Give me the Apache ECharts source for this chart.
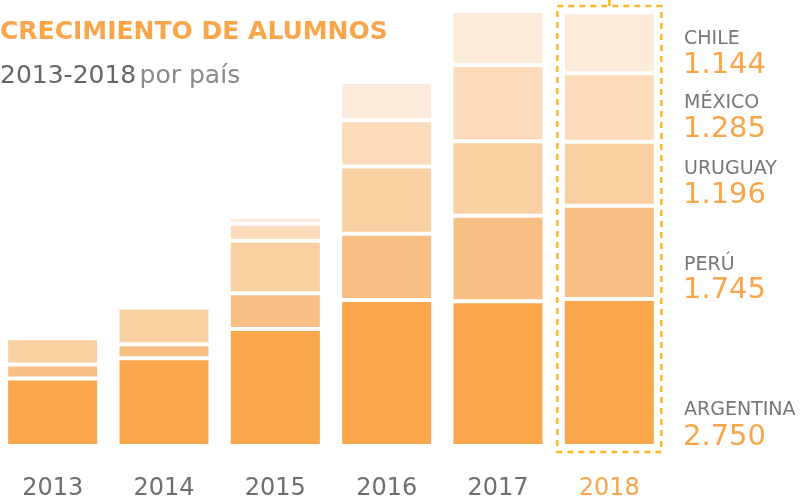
<!DOCTYPE html>
<html>
<head>
<meta charset="utf-8">
<script src="https://cdn.jsdelivr.net/npm/echarts@6/dist/echarts.min.js"></script>
<style>
html, body { margin: 0; padding: 0; background: #fff; }
#main { width: 809px; height: 502px; }
</style>
</head>
<body>
<div id="main"></div>
<script>
// datos (alumnos por pais y año)
var years = ['2013', '2014', '2015', '2016', '2017', '2018'];
var argentina = [1262, 1643, 2190, 2730, 2710, 2750];
var peru = [265, 260, 670, 1240, 1600, 1745];
var uruguay = [490, 690, 980, 1260, 1390, 1196];
var mexico = [null, null, 320, 865, 1430, 1285];
var chile = [null, null, 130, 715, 1015, 1144];
var paises = ['ARGENTINA', 'PERÚ', 'URUGUAY', 'MÉXICO', 'CHILE'];
var colores = ['#F9A64C', '#F8BF84', '#F9D0A1', '#FBDBB9', '#FCEBDA'];

var naranja = '#F9A54A';
var gris = '#6E6E6E';
var fuente = 'DejaVu Sans';

function miles(v) {
    return String(v).replace(/\B(?=(\d{3})+(?!\d))/g, '.');
}

var valores = [argentina, peru, uruguay, mexico, chile];
var total = 0;
valores.forEach(function (s) { total += s[5]; });

var myChart = echarts.init(document.getElementById('main'));

var series = valores.map(function (s, i) {
    return {
        name: paises[i],
        type: 'bar',
        stack: 'total',
        barWidth: 93,
        itemStyle: {
            color: colores[i],
            borderColor: '#fff',
            borderWidth: 2
        },
        data: s
    };
});

option = {
    animation: false,
    grid: {
        left: -3,
        width: 668,
        top: 12,
        bottom: 56,
        outerBoundsMode: 'none',
        containLabel: false
    },
    xAxis: {
        type: 'category',
        data: years,
        axisLine: { show: false },
        axisTick: { show: false },
        axisLabel: {
            margin: 31,
            fontSize: 24,
            fontFamily: fuente,
            color: function (v, i) {
                return v === '2018' ? naranja : gris;
            }
        }
    },
    yAxis: {
        type: 'value',
        show: false,
        min: 0,
        max: total
    },
    series: series
};

myChart.setOption(option);

// caja punteada alrededor de 2018 y etiquetas de la derecha
var arriba = myChart.convertToPixel({ gridIndex: 0 }, ['2018', total]);
var abajo = myChart.convertToPixel({ gridIndex: 0 }, ['2018', 0]);
var cx = arriba[0];

var posEtiquetas = [[410, 437], [265, 290], [169.5, 195.5], [103.5, 129], [39, 65]];

var graficos = [
    {
        type: 'text',
        x: 0,
        y: 32,
        style: {
            text: 'CRECIMIENTO DE ALUMNOS',
            fill: naranja,
            fontSize: 25,
            fontWeight: 'bold',
            fontFamily: fuente,
            verticalAlign: 'middle'
        }
    },
    {
        type: 'text',
        x: 0,
        y: 76,
        style: {
            text: '{a|2013-2018} {b|por país}',
            verticalAlign: 'middle',
            rich: {
                a: { fontSize: 25, fontFamily: fuente, fill: '#666' },
                b: { fontSize: 25, fontFamily: fuente, fill: '#8a8a8a' }
            }
        }
    },
    {
        type: 'rect',
        shape: { x: cx - 52, y: arriba[1] - 6, width: 104, height: abajo[1] - arriba[1] + 12 },
        style: { fill: null, stroke: '#FDB52A', lineWidth: 2.5, lineDash: [6, 5] },
        silent: true
    },
    {
        type: 'line',
        shape: { x1: cx, y1: 0, x2: cx, y2: arriba[1] - 6 },
        style: { stroke: '#FDB52A', lineWidth: 2.5 },
        silent: true
    }
];

paises.forEach(function (p, i) {
    graficos.push({
        type: 'text',
        x: 684,
        y: posEtiquetas[i][0],
        style: {
            text: p,
            fill: '#777',
            fontSize: 19,
            fontFamily: fuente,
            verticalAlign: 'middle'
        }
    });
    graficos.push({
        type: 'text',
        x: 683,
        y: posEtiquetas[i][1],
        style: {
            text: miles(valores[i][5]),
            fill: naranja,
            fontSize: 29,
            fontFamily: fuente,
            verticalAlign: 'middle'
        }
    });
});

myChart.setOption({ graphic: graficos });
window.onresize = myChart.resize;
</script>
</body>
</html>
